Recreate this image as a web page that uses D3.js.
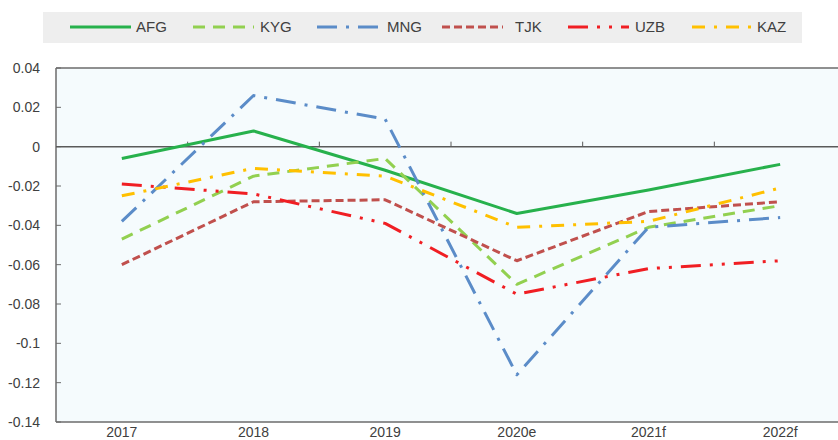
<!DOCTYPE html>
<html>
<head>
<meta charset="utf-8">
<script src="https://cdn.jsdelivr.net/npm/d3@7"></script>
<style>
  body { margin: 0; background: #fff; }
  text { font-family: "Liberation Sans", Arial, sans-serif; fill: #404040; }
</style>
</head>
<body>
<svg id="chart" width="838" height="440"></svg>
<script>
// categories and series (share of GDP)
const years = ["2017", "2018", "2019", "2020e", "2021f", "2022f"];
const afg = [-0.006, 0.008, -0.012, -0.034, -0.022, -0.009];
const kyg = [-0.047, -0.015, -0.006, -0.070, -0.041, -0.030];
const mng = [-0.038, 0.026, 0.014, -0.116, -0.041, -0.036];
const tjk = [-0.060, -0.028, -0.027, -0.058, -0.033, -0.028];
const uzb = [-0.019, -0.024, -0.039, -0.075, -0.062, -0.058];
const kaz = [-0.025, -0.011, -0.015, -0.041, -0.038, -0.021];
const yTicks = [0.04, 0.02, 0, -0.02, -0.04, -0.06, -0.08, -0.1, -0.12, -0.14];

const series = [
  {name: "AFG", values: afg, color: "#27b14c", dash: null},
  {name: "KYG", values: kyg, color: "#92d050", dash: "12 8"},
  {name: "MNG", values: mng, color: "#5b8cc8", dash: "20 9 3 9"},
  {name: "TJK", values: tjk, color: "#c0504d", dash: "8 4"},
  {name: "UZB", values: uzb, color: "#f01e23", dash: "20 9 3 9 3 9"},
  {name: "KAZ", values: kaz, color: "#ffc000", dash: "13 9 3 9"}
];

const svg = d3.select("#chart");
const plotL = 56, plotR = 846, plotT = 68, plotB = 422;

const x = d3.scaleBand().domain(years).range([plotL, plotR]);
const y = d3.scaleLinear().domain([-0.14, 0.04]).range([plotB, plotT]);

// plot area
svg.append("rect")
  .attr("x", plotL).attr("y", plotT)
  .attr("width", plotR - plotL).attr("height", plotB - plotT)
  .attr("fill", "#f5fbfd");

// frame lines
svg.append("line").attr("x1", plotL).attr("x2", plotR).attr("y1", plotT).attr("y2", plotT)
  .attr("stroke", "#6b6b6b").attr("stroke-width", 1.5);
svg.append("line").attr("x1", plotL).attr("x2", plotR).attr("y1", plotB).attr("y2", plotB)
  .attr("stroke", "#6b6b6b").attr("stroke-width", 1.5);
svg.append("line").attr("x1", plotL).attr("x2", plotL).attr("y1", plotT).attr("y2", plotB)
  .attr("stroke", "#6b6b6b").attr("stroke-width", 1.5);

// y ticks + labels
const yAxis = svg.append("g");
yAxis.selectAll("line").data(yTicks).enter().append("line")
  .attr("x1", plotL).attr("x2", plotL + 5)
  .attr("y1", d => y(d)).attr("y2", d => y(d))
  .attr("stroke", "#6b6b6b");
yAxis.selectAll("text").data(yTicks).enter().append("text")
  .attr("x", 40).attr("y", d => y(d))
  .attr("dy", "0.35em")
  .attr("text-anchor", "end")
  .style("font-size", "14px")
  .text(d => String(+d.toFixed(2)));

// zero line with category ticks
svg.append("line").attr("x1", plotL).attr("x2", plotR).attr("y1", y(0)).attr("y2", y(0))
  .attr("stroke", "#5a5a5a").attr("stroke-width", 1.5);
svg.selectAll(".xtick").data(years.slice(1)).enter().append("line")
  .attr("x1", d => x(d)).attr("x2", d => x(d))
  .attr("y1", y(0) - 5).attr("y2", y(0))
  .attr("stroke", "#5a5a5a");

// x labels
svg.selectAll(".xlab").data(years).enter().append("text")
  .attr("x", d => x(d) + x.bandwidth() / 2)
  .attr("y", 437)
  .attr("text-anchor", "middle")
  .style("font-size", "14px")
  .text(d => d);

// lines
const line = d3.line()
  .x((d, i) => x(years[i]) + x.bandwidth() / 2)
  .y(d => y(d));

svg.selectAll(".series").data(series).enter().append("path")
  .attr("d", d => line(d.values))
  .attr("fill", "none")
  .attr("stroke", d => d.color)
  .attr("stroke-width", 3)
  .attr("stroke-dasharray", d => d.dash)
  .attr("stroke-linejoin", "round");

// legend
svg.append("rect").attr("x", 43).attr("y", 12).attr("width", 759).attr("height", 31)
  .attr("fill", "#eeeeee");
const legX = [70, 193, 317, 442, 568, 692];
const leg = svg.selectAll(".leg").data(series).enter().append("g")
  .attr("transform", (d, i) => `translate(${legX[i]},27)`);
leg.append("line")
  .attr("x1", 0).attr("x2", 61)
  .attr("stroke", d => d.color)
  .attr("stroke-width", 3)
  .attr("stroke-dasharray", d => d.dash);
leg.append("text")
  .attr("x", (d, i) => [66, 67, 70, 73, 67, 65][i])
  .attr("dy", "0.35em")
  .style("font-size", "15px")
  .text(d => d.name);
</script>
</body>
</html>
